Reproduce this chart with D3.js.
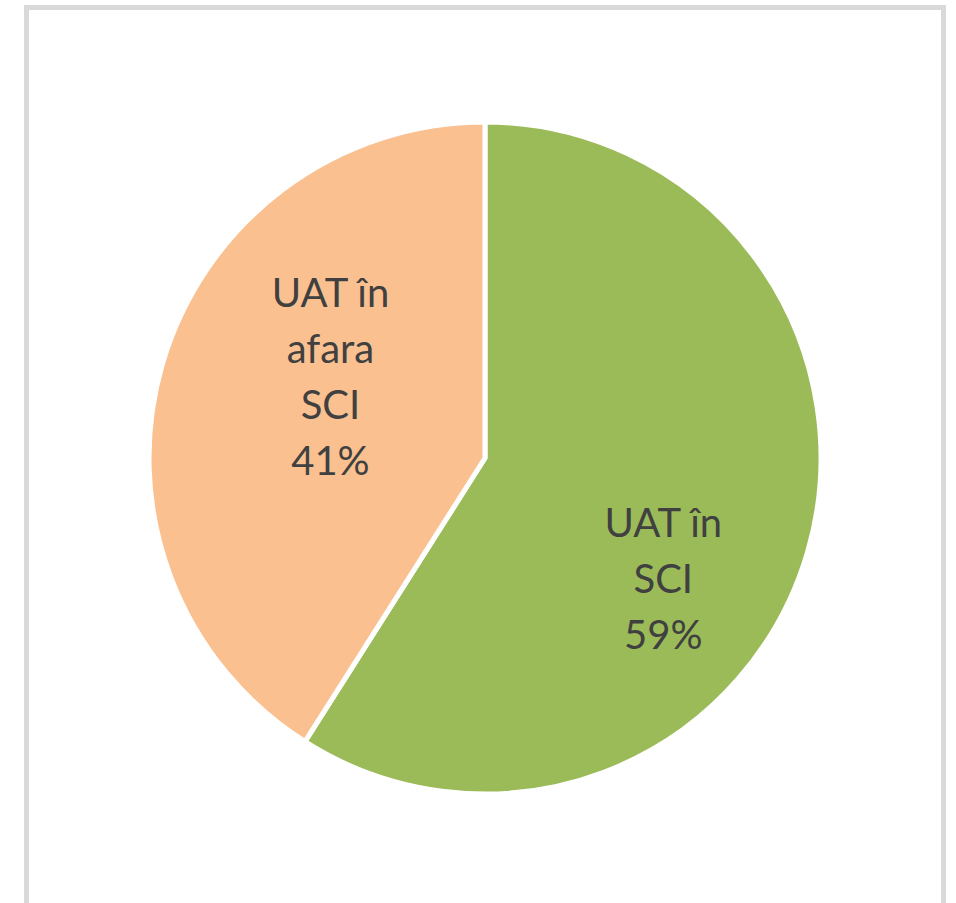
<!DOCTYPE html>
<html>
<head>
<meta charset="utf-8">
<script src="https://cdn.jsdelivr.net/npm/d3@7"></script>
<style>
  html, body { margin: 0; padding: 0; background: #fff; }
  svg { display: block; }
  .lbl { font-family: Lato, "Open Sans", sans-serif; fill: #404040; }
</style>
</head>
<body>
<svg id="chart" width="956" height="903"></svg>
<script>
// Pie: UAT în SCI vs UAT în afara SCI
var categories = ['UAT în SCI', 'UAT în afara SCI'];
var values = [59, 41];
var labelLines = [['UAT în', 'SCI', '59%'], ['UAT în', 'afara', 'SCI', '41%']];
var colors = ['#9bbb59', '#fac090'];

(function () {
    var svg = d3.select('#chart');
    var W = 956, H = 903;

    // chart frame (bottom edge runs off the page)
    svg.append('rect')
        .attr('x', 26.5).attr('y', 7.5)
        .attr('width', 917).attr('height', 1000)
        .attr('fill', '#fff')
        .attr('stroke', '#d9d9d9')
        .attr('stroke-width', 5);

    var cx = 485, cy = 458, R = 336;
    var g = svg.append('g').attr('transform', 'translate(' + cx + ',' + cy + ')');

    var pie = d3.pie().sort(null).value(function (d) { return d; });
    var arcs = pie(values);
    var arc = d3.arc().innerRadius(0).outerRadius(R);

    g.selectAll('path.slice')
        .data(arcs)
        .enter().append('path')
        .attr('class', 'slice')
        .attr('d', arc)
        .attr('fill', function (d, i) { return colors[i]; })
        .attr('stroke', '#fff')
        .attr('stroke-width', 5)
        .attr('stroke-linejoin', 'round');

    // label placement (angle in deg from top, radius fraction) — tuned by eye
    var place = [{ a: 124, r: 0.64 }, { a: 297.8, r: 0.52 }];
    var fs = 40, lh = 56;

    arcs.forEach(function (d, i) {
        var p = place[i];
        var ang = p.a * Math.PI / 180;
        var x = Math.sin(ang) * R * p.r;
        var y = -Math.cos(ang) * R * p.r;
        var lines = labelLines[i];
        var t = g.append('text')
            .attr('class', 'lbl')
            .attr('text-anchor', 'middle')
            .attr('font-size', fs);
        // block centred on (x, y); cap height ~0.72em
        var y0 = y - (lines.length - 1) * lh / 2 + fs * 0.36;
        lines.forEach(function (s, k) {
            t.append('tspan').attr('x', x).attr('y', y0 + k * lh).text(s);
        });
    });
})();
</script>
</body>
</html>
